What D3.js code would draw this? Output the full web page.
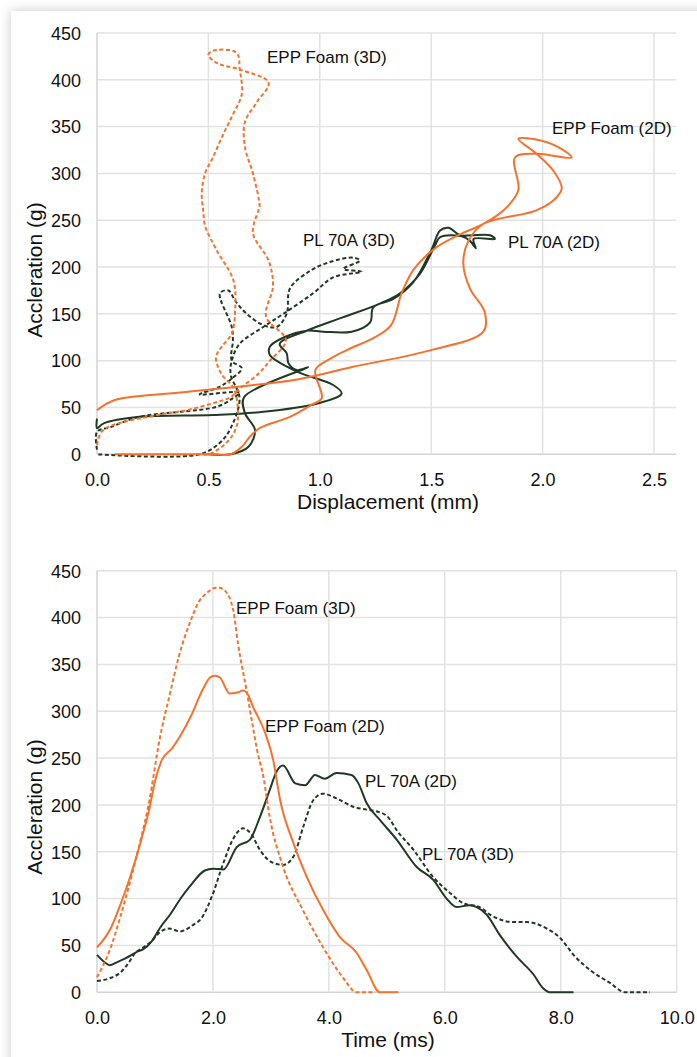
<!DOCTYPE html>
<html><head><meta charset="utf-8">
<script src="https://cdnjs.cloudflare.com/ajax/libs/d3/7.8.5/d3.min.js"></script>
<style>
html,body{margin:0;padding:0;background:#fff;overflow:hidden;}
#card{position:absolute;left:11px;top:11px;width:720px;height:1080px;background:#fff;box-shadow:0 0 11px rgba(0,0,0,0.22);}
svg{position:absolute;left:0;top:0;}
text{font-family:"Liberation Sans",Arial,sans-serif;fill:#111;}
</style></head>
<body><div id="card"></div><svg id="chart" width="697" height="1057"></svg>
<script>
// ---------- DATA ----------
// Top chart: acceleration (g) vs displacement (mm)
const eppFoam3D_disp = [0,0.02,0.07,0.27,0.4,0.54,0.6,0.64,0.724,0.776,0.848,0.759,0.79,0.77,0.70,0.724,0.73,0.70,0.664,0.664,0.717,0.77,0.64,0.537,0.5,0.52,0.61,0.634,0.64,0.65,0.61,0.567,0.52,0.485,0.47,0.477,0.485,0.537,0.612,0.62,0.605,0.56,0.534,0.544,0.567,0.61,0.63,0.627,0.58,0.5,0.47];
const eppFoam3D_acc  = [10,24,31,42,47,56,61,70,86,100,122,147,180,207,236,260,264,300,328,355,376,397,411,418,427,431,431,426,413,385,363,342,317,300,278,260,244,218,186,154,129,115,104,93,83,72,55,30,12,0,0];

const eppFoam2D_disp = [0,0.08,0.372,0.9,1.14,1.495,1.734,1.74,1.674,1.644,1.667,1.734,1.966,2.048,2.086,2.048,1.973,1.891,1.996,2.086,2.13,1.973,1.876,1.891,1.831,1.734,1.63,1.517,1.42,1.367,1.32,1.24,1.136,1.046,0.98,1.009,0.964,0.866,0.73,0.687,0.65,0.6,0.52,0.08];
const eppFoam2D_acc  = [47,58,66,80,93,111,131,152,177,204,228,246,260,271,284,303,321,337,335,326,317,321,317,282,262,246,235,220,197,172,138,124,113,102,90,60,53,40,28,19,8,0,0,0];

const pl70A2D_disp = [0,0,0.03,0.19,0.52,0.73,0.986,1.098,1.06,0.9,0.776,0.776,0.84,0.941,1.016,1.143,1.226,1.24,1.33,1.42,1.5,1.54,1.577,1.63,1.68,1.764,1.786,1.69,1.7,1.674,1.637,1.54,1.517,1.45,1.36,1.27,1.1,0.941,0.82,0.851,0.86,0.896,0.948,0.66,0.664,0.709,0.68,0.6,0.5];
const pl70A2D_acc  = [38,28,33,40,42,45,54,65,74,88,106,115,125,132,131,131,141,157,166,184,218,239,242,234,234,234,230,230,220,228,233,232,223,193,172,161,146,132,118,108,97,90,93,61,44,26,8,0,0];

const pl70A3D_disp = [0,0,0.06,0.19,0.54,0.61,0.64,0.46,0.55,0.6,0.65,0.605,0.61,0.605,0.552,0.59,0.62,0.672,0.746,0.806,0.851,0.866,0.95,1.04,1.15,1.18,1.106,1.188,1.06,0.97,0.836,0.746,0.64,0.605,0.6,0.64,0.6,0.55,0.46,0];
const pl70A3D_acc  = [5,24,29,40,51,60,66,64,72,80,92,100,122,136,172,175,164,150,138,136,150,177,195,205,210,207,198,195,189,172,150,136,118,100,85,60,28,12,0,0];

// Bottom chart: acceleration (g) vs time (ms)
const eppFoam3D_time = [0,0.1,0.22,0.4,0.6,0.75,0.88,1.09,1.26,1.41,1.63,1.74,1.91,2.0,2.09,2.2,2.35,2.43,2.59,2.69,2.76,2.87,2.98,3.21,3.55,3.9,4.24,4.48,4.8];
const eppFoam3D_accT = [16,28,45,80,125,162,197,273,319,358,399,415,427,431,432,429,408,373,319,283,259,230,187,134,88,48,16,0,0];

const eppFoam2D_time = [0,0.25,0.35,0.5,0.75,0.9,1.0,1.12,1.29,1.43,1.63,1.83,1.95,2.03,2.12,2.29,2.42,2.52,2.61,2.69,2.9,3.04,3.16,3.39,3.62,3.9,4.19,4.48,4.65,4.88,5.2];
const eppFoam2D_accT = [48,70,85,110,160,195,225,248,260,273,296,324,336,338,336,319,320,322,317,305,277,248,205,159,123,88,59,42,24,0,0];

const pl70A2D_time = [0,0.155,0.22,0.34,0.48,0.6,0.68,0.8,0.95,1.1,1.25,1.43,1.6,1.86,2.0,2.18,2.41,2.64,2.81,2.98,3.1,3.21,3.42,3.59,3.76,3.93,4.13,4.39,4.51,4.65,4.88,5.17,5.51,5.8,6.03,6.2,6.43,6.55,6.72,6.95,7.24,7.53,7.7,7.81,8.22];
const pl70A2D_accT = [40,31,29,32,36,40,43,46,55,70,82,99,113,130,132,131,155,163,187,216,236,242,223,221,232,228,234,232,223,202,184,163,134,120,100,91,93,91,83,61,38,19,4,0,0];

const pl70A3D_time = [0,0.22,0.42,0.54,0.66,0.8,0.95,1.1,1.25,1.43,1.66,1.8,1.98,2.18,2.35,2.52,2.67,2.81,3.01,3.21,3.39,3.56,3.73,3.9,4.13,4.42,4.65,4.83,5.02,5.17,5.46,5.8,6.09,6.32,6.6,6.78,7.18,7.41,7.76,7.99,8.22,8.5,8.85,9.11,9.54];
const pl70A3D_accT = [12,15,22,31,42,48,55,65,68,65,72,79,102,138,164,175,168,152,139,136,145,177,205,212,207,198,195,193,187,173,152,123,106,95,91,83,75,75,68,58,40,24,10,0,0];

const seriesNames = ["EPP Foam (3D)","EPP Foam (2D)","PL 70A (2D)","PL 70A (3D)"];
const topXTicks = [0,0.5,1.0,1.5,2.0,2.5];
const bottomXTicks = [0,2,4,6,8,10];
const yTicks = [0,50,100,150,200,250,300,350,400,450];

// ---------- DRAW ----------
const ORANGE = "#f4722e", GREEN = "#1f3a22";
const svg = d3.select("#chart");
const zip = (a,b) => a.map((v,i)=>[v,b[i]]);
const FONT = "Liberation Sans, Arial, sans-serif";

function panel(cfg){
  const x = d3.scaleLinear().domain(cfg.xDomain).range([97, cfg.xRight]);
  const y = d3.scaleLinear().domain([0,450]).range([cfg.yBottom, cfg.yTop]);
  const g = svg.append("g");
  g.append("g").selectAll("line").data(yTicks).join("line")
    .attr("x1",x.range()[0]).attr("x2",x.range()[1])
    .attr("y1",d=>y(d)).attr("y2",d=>y(d))
    .attr("stroke",d=>d===0?"#d3d3d3":"#e2e2e2").attr("stroke-width",1.5);
  g.append("g").selectAll("line").data(cfg.xTicks).join("line")
    .attr("x1",d=>x(d)).attr("x2",d=>x(d))
    .attr("y1",y(450)).attr("y2",y(0))
    .attr("stroke",d=>d===0?"#d3d3d3":"#e2e2e2").attr("stroke-width",1.5);
  const ya = d3.axisLeft(y).tickValues(yTicks).tickSize(0).tickPadding(0).tickFormat(d3.format("d"));
  const yg = g.append("g").attr("transform","translate(81,0)").call(ya);
  yg.select(".domain").remove();
  yg.attr("font-family",FONT);
  yg.selectAll("text").attr("font-size",18).attr("fill","#111").attr("dy","0.35em");
  const xa = d3.axisBottom(x).tickValues(cfg.xTicks).tickSize(0).tickPadding(0).tickFormat(d3.format(".1f"));
  const xg = g.append("g").attr("transform",`translate(0,${cfg.yBottom+25})`).call(xa);
  xg.select(".domain").remove();
  xg.attr("font-family",FONT);
  xg.selectAll("text").attr("font-size",18).attr("fill","#111").attr("dy","0.35em");
  g.append("text").attr("x",388).attr("y",cfg.yBottom+47).attr("dy","0.35em")
    .attr("text-anchor","middle").attr("font-size",21).text(cfg.xTitle);
  g.append("text").attr("transform",`translate(35,${cfg.yTitleC}) rotate(-90)`).attr("dy","0.35em")
    .attr("text-anchor","middle").attr("font-size",21).text("Accleration (g)");
  const line = d3.line().x(d=>x(d[0])).y(d=>y(d[1])).curve(cfg.curve);
  cfg.series.forEach(s=>{
    g.append("path").attr("d",line(s.data)).attr("fill","none")
      .attr("stroke",s.color).attr("stroke-width",2)
      .attr("stroke-linejoin","round")
      .attr("stroke-dasharray",s.dashed?"4,2.5":null);
  });
  cfg.labels.forEach(l=>{
    g.append("text").attr("x",l.x).attr("y",l.y).attr("dy","0.35em").attr("font-size",17).text(l.t);
  });
}

panel({
  xDomain:[0,2.6], xRight:676.3, yBottom:454.3, yTop:33, xTicks:topXTicks,
  xTitle:"Displacement (mm)", yTitleC:270, curve:d3.curveCatmullRom.alpha(0.5),
  series:[
    {data:zip(pl70A3D_disp,pl70A3D_acc),color:GREEN,dashed:true},
    {data:zip(pl70A2D_disp,pl70A2D_acc),color:GREEN,dashed:false},
    {data:zip(eppFoam3D_disp,eppFoam3D_acc),color:ORANGE,dashed:true},
    {data:zip(eppFoam2D_disp,eppFoam2D_acc),color:ORANGE,dashed:false}
  ],
  labels:[
    {t:seriesNames[0],x:267,y:57},{t:seriesNames[1],x:552,y:128},
    {t:seriesNames[2],x:508,y:242},{t:seriesNames[3],x:303,y:240}
  ]
});

panel({
  xDomain:[0,10], xRight:676.7, yBottom:992.3, yTop:570.7, xTicks:bottomXTicks,
  xTitle:"Time (ms)", yTitleC:807, curve:d3.curveMonotoneX,
  series:[
    {data:zip(pl70A3D_time,pl70A3D_accT),color:GREEN,dashed:true},
    {data:zip(pl70A2D_time,pl70A2D_accT),color:GREEN,dashed:false},
    {data:zip(eppFoam3D_time,eppFoam3D_accT),color:ORANGE,dashed:true},
    {data:zip(eppFoam2D_time,eppFoam2D_accT),color:ORANGE,dashed:false}
  ],
  labels:[
    {t:seriesNames[0],x:236,y:608},{t:seriesNames[1],x:265,y:726},
    {t:seriesNames[2],x:365,y:781},{t:seriesNames[3],x:422,y:854}
  ]
});
</script></body></html>
